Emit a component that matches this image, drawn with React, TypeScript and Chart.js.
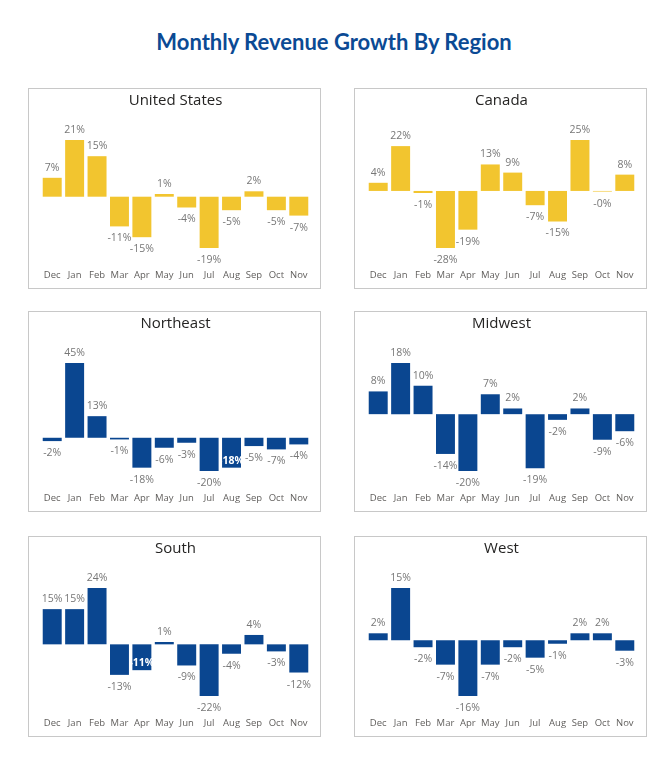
import React, { useEffect, useRef } from "react";
import { Chart, registerables } from "chart.js";

Chart.register(...registerables);

// Month-over-month revenue growth, in percent
const months = ["Dec", "Jan", "Feb", "Mar", "Apr", "May", "Jun", "Jul", "Aug", "Sep", "Oct", "Nov"];
const unitedStates = [7, 21, 15, -11, -15, 1, -4, -19, -5, 2, -5, -7];
const canada = [4, 22, -1, -28, -19, 13, 9, -7, -15, 25, -0.3, 8];
const northeast = [-2, 45, 13, -1, -18, -6, -3, -20, -18, -5, -7, -4];
const midwest = [8, 18, 10, -14, -20, 7, 2, -19, -2, 2, -9, -6];
const south = [15, 15, 24, -13, -11, 1, -9, -22, -4, 4, -3, -12];
const west = [2, 15, -2, -7, -16, -7, -2, -5, -1, 2, 2, -3];

// Months whose value label sits inside the end of its bar
const northeastInside = ["Aug"];
const southInside = ["Apr"];

const YELLOW = "#F2C52F";
const BLUE = "#0A4690";
const FONT = "'Segoe UI', 'Open Sans', sans-serif";

type PanelDef = {
  title: string;
  values: number[];
  color: string;
  inside: string[];
  left: number;
  top: number;
};

const COL_LEFT = [28, 354];
const ROW_TOP = [88, 311, 536];
const PANEL_W = 293;
const PANEL_H = 201;

const panels: PanelDef[] = [
  { title: "United States", values: unitedStates, color: YELLOW, inside: [], left: COL_LEFT[0], top: ROW_TOP[0] },
  { title: "Canada", values: canada, color: YELLOW, inside: [], left: COL_LEFT[1], top: ROW_TOP[0] },
  { title: "Northeast", values: northeast, color: BLUE, inside: northeastInside, left: COL_LEFT[0], top: ROW_TOP[1] },
  { title: "Midwest", values: midwest, color: BLUE, inside: [], left: COL_LEFT[1], top: ROW_TOP[1] },
  { title: "South", values: south, color: BLUE, inside: southInside, left: COL_LEFT[0], top: ROW_TOP[2] },
  { title: "West", values: west, color: BLUE, inside: [], left: COL_LEFT[1], top: ROW_TOP[2] },
];

// Draws the percentage above positive bars, below negative ones,
// or inside the bar end for the months flagged as inside.
const valueLabels = {
  id: "valueLabels",
  afterDatasetsDraw(chart: any, _args: any, opts: any) {
    const ctx = chart.ctx;
    const meta = chart.getDatasetMeta(0);
    const data = chart.data.datasets[0].data as number[];
    const labels = chart.data.labels as string[];
    const inside: string[] = opts.inside || [];
    ctx.save();
    ctx.textAlign = "center";
    ctx.textBaseline = "middle";
    meta.data.forEach((bar: any, i: number) => {
      const v = data[i];
      const text = `${v.toFixed(0)}%`;
      if (inside.includes(labels[i])) {
        ctx.fillStyle = "#ffffff";
        ctx.font = `bold 10.5px ${FONT}`;
        ctx.fillText(text, bar.x, v < 0 ? bar.y - 7 : bar.y + 7);
      } else {
        ctx.fillStyle = "#777777";
        ctx.font = `10.5px ${FONT}`;
        ctx.fillText(text, bar.x, v < 0 ? bar.y + 12 : bar.y - 10);
      }
    });
    ctx.restore();
  },
};

function Panel({ def }: { def: PanelDef }) {
  const ref = useRef<HTMLCanvasElement>(null);

  useEffect(() => {
    if (!ref.current) return;
    const min = Math.min(...def.values);
    const max = Math.max(...def.values);
    const chart = new Chart(ref.current, {
      type: "bar",
      data: {
        labels: months,
        datasets: [
          {
            data: def.values,
            backgroundColor: def.color,
            barPercentage: 0.92,
            categoryPercentage: 0.92,
          },
        ],
      },
      options: {
        animation: false,
        responsive: false,
        devicePixelRatio: 1,
        layout: { padding: { left: 12, right: 10, top: 0, bottom: 6 } },
        plugins: {
          legend: { display: false },
          tooltip: { enabled: false },
          title: {
            display: true,
            text: def.title,
            color: "#252423",
            font: { family: FONT, size: 15, weight: "normal" as any, lineHeight: 1.2 },
            padding: { top: 3, bottom: 30 },
          },
          valueLabels: { inside: def.inside },
        } as any,
        scales: {
          x: {
            grid: { display: false, drawTicks: false },
            border: { display: false },
            ticks: {
              color: "#605e5c",
              font: { family: FONT, size: 9.5, lineHeight: 1.2 },
              padding: 22,
              maxRotation: 0,
              autoSkip: false,
            },
            afterFit: (scale: any) => {
              scale.height = 34;
              scale.paddingLeft = 0;
              scale.paddingRight = 0;
            },
          },
          y: {
            display: false,
            min,
            max,
          },
        },
      },
      plugins: [valueLabels],
    });
    return () => chart.destroy();
  }, [def]);

  return (
    <div
      style={{
        position: "absolute",
        left: def.left,
        top: def.top,
        width: PANEL_W - 2,
        height: PANEL_H - 2,
        border: "1px solid #c8c8c8",
        background: "#ffffff",
      }}
    >
      <canvas ref={ref} width={PANEL_W - 2} height={PANEL_H - 2} style={{ display: "block" }} />
    </div>
  );
}

export default function App() {
  return (
    <div
      style={{
        position: "absolute",
        left: 0,
        top: 0,
        width: 668,
        height: 762,
        background: "#ffffff",
        overflow: "hidden",
      }}
    >
      <div
        style={{
          position: "absolute",
          left: 0,
          top: 28,
          width: 668,
          textAlign: "center",
          fontFamily: "Lato, sans-serif",
          fontWeight: 700,
          fontSize: 22,
          lineHeight: "28px",
          color: "#0B4A94",
        }}
      >
        Monthly Revenue Growth By Region
      </div>
      {panels.map((p) => (
        <Panel key={p.title} def={p} />
      ))}
    </div>
  );
}
